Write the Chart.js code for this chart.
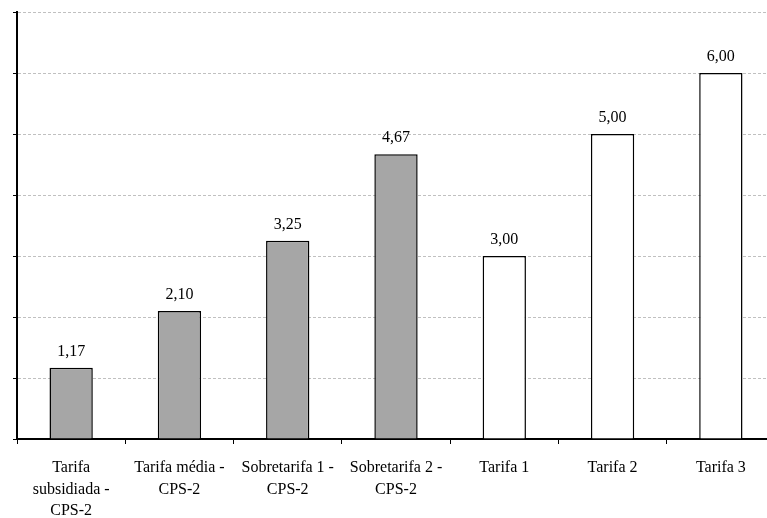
<!DOCTYPE html>
<html>
<head>
<meta charset="utf-8">
<script src="https://cdn.jsdelivr.net/npm/chart.js@4"></script>
<style>
html,body{margin:0;padding:0;background:#fff;overflow:hidden;}
#wrap{width:790px;height:518px;position:relative;}
</style>
</head>
<body>
<div id="wrap"><canvas id="c"></canvas></div>
<script>
const categories = [
  ["Tarifa", "subsidiada -", "CPS-2"],
  ["Tarifa média -", "CPS-2"],
  ["Sobretarifa 1 -", "CPS-2"],
  ["Sobretarifa 2 -", "CPS-2"],
  "Tarifa 1",
  "Tarifa 2",
  "Tarifa 3"
];
const values = [1.17, 2.10, 3.25, 4.67, 3.00, 5.00, 6.00];
const fillColors = ["#a6a6a6", "#a6a6a6", "#a6a6a6", "#a6a6a6", "#ffffff", "#ffffff", "#ffffff"];
const yMin = 0, yMax = 7, yStep = 1;

const FONT = "'Liberation Serif', 'Times New Roman', serif";

const valueLabels = {
  id: 'valueLabels',
  afterDatasetsDraw(chart) {
    const ctx = chart.ctx;
    const meta = chart.getDatasetMeta(0);
    ctx.save();
    ctx.font = "16px " + FONT;
    ctx.fillStyle = "#000";
    ctx.textAlign = "center";
    ctx.textBaseline = "alphabetic";
    meta.data.forEach((bar, i) => {
      const v = chart.data.datasets[0].data[i];
      ctx.fillText(v.toFixed(2).replace('.', ','), bar.x, bar.y - 12);
    });
    ctx.restore();
  }
};

new Chart(document.getElementById('c'), {
  type: 'bar',
  data: {
    labels: categories,
    datasets: [{
      data: values,
      backgroundColor: fillColors,
      borderColor: "#000",
      borderWidth: 1.5,
      barPercentage: 0.4,
      categoryPercentage: 1.0
    }]
  },
  options: {
    responsive: true,
    maintainAspectRatio: false,
    animation: false,
    layout: { padding: { top: 12, right: 15, left: 0, bottom: 0 } },
    plugins: { legend: { display: false }, tooltip: { enabled: false } },
    scales: {
      x: {
        offset: true,
        grid: {
          offset: true,
          drawOnChartArea: false,
          drawTicks: true,
          tickLength: 5,
          color: "#000",
          tickColor: "#000",
          lineWidth: 1
        },
        border: { display: true, color: "#000", width: 2 },
        ticks: {
          color: "#000",
          font: { family: FONT, size: 16, lineHeight: 1.35 },
          padding: 13,
          maxRotation: 0,
          minRotation: 0,
          autoSkip: false
        },
        afterFit(scale) { scale.height = 79; }
      },
      y: {
        min: yMin,
        max: yMax,
        ticks: { stepSize: yStep, display: false },
        grid: {
          color: "#c0c0c0",
          lineWidth: 1,
          drawTicks: true,
          tickLength: 4,
          tickColor: "#000",
          tickBorderDash: [],
          tickWidth: 1
        },
        border: { display: true, color: "#000", width: 2, dash: [3, 2] },
        afterFit(scale) { scale.width = 17; }
      }
    }
  },
  plugins: [valueLabels]
});
</script>
</body>
</html>
